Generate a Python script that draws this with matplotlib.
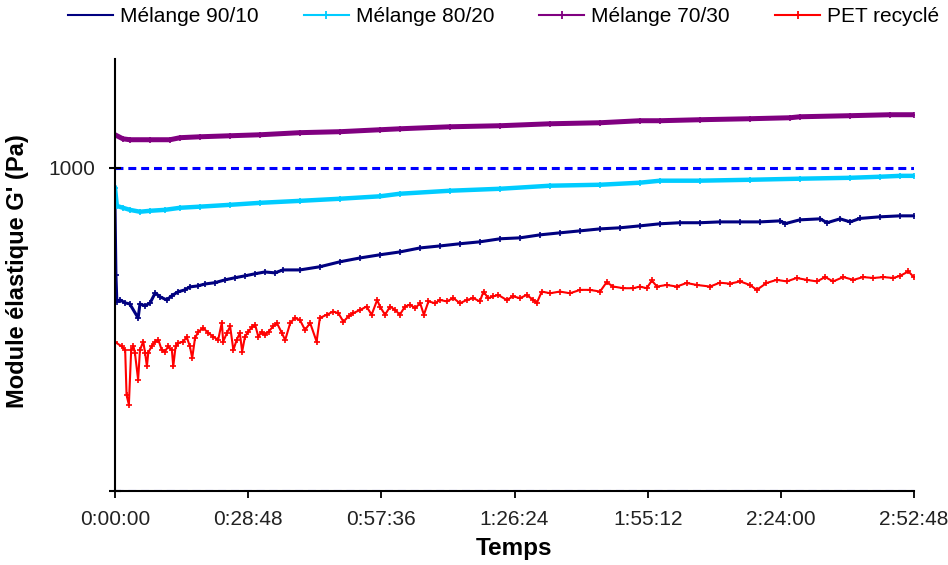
import matplotlib
matplotlib.use("Agg")
import matplotlib.pyplot as plt
from matplotlib.ticker import FixedLocator, FuncFormatter, NullLocator
from matplotlib.lines import Line2D

plt.rcParams['font.family'] = ['Liberation Sans', 'DejaVu Sans']

# ---- data (time in minutes, G' in Pa) ----
series_names = ["Mélange 90/10", "Mélange 80/20", "Mélange 70/30", "PET recyclé"]

t_9010 = [0, 0.2, 0.4, 1.1, 2.2, 3.2, 5.0, 5.4, 6.5, 7.6,
          8.7, 9.7, 11.2, 12.3, 13.6, 15.1, 16.2, 17.9, 19.5, 21.6,
          23.8, 26.0, 28.1, 30.3, 32.4, 34.6, 36.3, 40.0, 44.3, 48.7,
          53.0, 57.3, 61.6, 66.0, 70.3, 74.6, 78.9, 83.3, 87.6, 91.9,
          96.2, 100.6, 104.9, 109.2, 113.5, 117.9, 122.2, 126.5, 130.8, 135.2,
          139.5, 143.8, 145.0, 148.1, 152.5, 154.0, 156.8, 159.0, 161.1, 165.4,
          169.8, 172.8]
g_9010 = [757, 466, 385, 390, 382, 379, 343, 379, 374, 382,
          410, 399, 390, 402, 413, 419, 428, 431, 437, 441,
          450, 457, 463, 470, 476, 473, 483, 483, 494, 512,
          526, 538, 549, 565, 573, 582, 590, 603, 607, 620,
          629, 638, 647, 652, 661, 671, 676, 676, 680, 680,
          680, 685, 672, 690, 695, 676, 695, 680, 697, 705,
          710, 710]

t_8020 = [0, 0.4, 1.7, 3.2, 5.4, 7.6, 10.8, 14.1, 18.4, 24.9,
          31.4, 40.0, 48.7, 57.3, 61.6, 72.4, 83.3, 94.1, 104.9, 113.5,
          117.9, 126.5, 137.3, 148.1, 159.0, 165.4, 169.8, 172.8]
g_8020 = [867, 762, 752, 741, 731, 736, 741, 752, 758, 768,
          779, 790, 802, 816, 831, 849, 861, 880, 886, 899,
          912, 912, 918, 925, 931, 938, 944, 944]

t_7030 = [0, 1.7, 3.2, 7.6, 11.9, 14.1, 18.4, 24.9, 31.4, 40.0,
          48.7, 57.3, 61.6, 72.4, 83.3, 94.1, 104.9, 113.5, 117.9, 126.5,
          137.3, 146.0, 148.1, 159.0, 167.6, 172.8]
g_7030 = [1265, 1229, 1221, 1221, 1221, 1239, 1247, 1256, 1265, 1284,
          1293, 1311, 1320, 1339, 1349, 1368, 1378, 1398, 1398, 1408,
          1418, 1428, 1438, 1449, 1459, 1459]

t_pet = [0, 1.5, 2.2, 2.5, 3.0, 3.5, 4.0, 4.3, 5.0, 5.4,
         6.1, 6.5, 6.9, 7.2, 7.9, 8.7, 9.4, 10.1, 10.8, 11.5,
         12.3, 12.6, 13.1, 13.7, 14.8, 15.5, 16.2, 16.7, 17.3, 18.0,
         19.1, 20.2, 21.3, 22.3, 23.1, 23.4, 24.2, 24.9, 25.6, 26.3,
         27.0, 27.5, 28.1, 28.8, 29.6, 30.3, 31.0, 31.7, 32.4, 33.2,
         34.2, 35.0, 36.1, 36.8, 37.9, 38.9, 40.0, 41.1, 42.2, 43.6,
         44.3, 45.8, 47.2, 48.3, 49.4, 50.5, 51.5, 53.0, 54.4, 55.5,
         56.7, 57.3, 58.4, 59.5, 60.6, 61.6, 62.7, 63.8, 64.9, 66.0,
         66.8, 67.8, 69.2, 70.3, 71.7, 73.2, 74.6, 76.1, 77.5, 78.9,
         79.7, 80.7, 81.8, 82.9, 84.7, 86.1, 87.6, 89.0, 90.5, 91.2,
         92.3, 94.1, 96.2, 98.4, 100.6, 102.7, 104.9, 106.3, 107.8, 109.9,
         112.1, 113.5, 115.0, 116.1, 117.2, 119.3, 121.5, 123.6, 125.8, 128.7,
         130.8, 133.0, 135.2, 137.3, 138.8, 140.9, 143.1, 145.3, 147.4, 149.6,
         151.8, 153.6, 155.3, 157.5, 159.7, 161.8, 164.0, 166.2, 168.3, 169.8,
         171.6, 172.8]
g_pet = [289, 280, 273, 198, 185, 273, 280, 268, 221, 273,
         290, 268, 243, 268, 280, 290, 293, 273, 270, 280,
         273, 243, 280, 287, 290, 300, 280, 258, 297, 311,
         319, 308, 300, 293, 332, 290, 308, 323, 273, 293,
         308, 270, 300, 311, 321, 327, 300, 311, 304, 311,
         323, 331, 308, 293, 331, 343, 338, 315, 331, 290,
         343, 351, 359, 355, 334, 347, 355, 363, 372, 351,
         390, 372, 351, 372, 363, 351, 372, 377, 368, 381,
         351, 386, 381, 390, 386, 395, 381, 390, 395, 386,
         414, 395, 400, 404, 390, 400, 395, 404, 390, 381,
         414, 409, 414, 409, 419, 419, 414, 442, 429, 424,
         424, 429, 424, 448, 429, 434, 429, 440, 434, 429,
         441, 438, 445, 434, 419, 440, 450, 445, 456, 450,
         445, 459, 445, 459, 450, 459, 456, 459, 456, 463,
         478, 458]

x_ticks = [0, 28.8, 57.6, 86.4, 115.2, 144.0, 172.8]
y_ticks = [100, 1000]
y_tick_labels = ["", "1000"]

colors = ["#000080", "#00CCFF", "#800080", "#FF0000"]

# ---- figure ----
fig = plt.figure(figsize=(9.48, 5.65), dpi=100)
ax = fig.add_axes([115/948, 1-491/565, 799/948, 432/565])

data = [(t_9010, g_9010, 2.2), (t_8020, g_8020, 3.2),
        (t_7030, g_7030, 3.6), (t_pet, g_pet, 1.5)]
for (t, g, lw), c in zip(data, colors):
    ax.plot(t, g, color=c, lw=lw, marker='+', ms=5, mew=1.2, zorder=3)

ax.set_yscale('log')
ax.set_xlim(0, 172.8)
ax.set_ylim(100, 2170)

ax.yaxis.set_major_locator(FixedLocator(y_ticks))
ax.yaxis.set_minor_locator(NullLocator())
ax.set_yticklabels(y_tick_labels)
ax.xaxis.set_major_locator(FixedLocator(x_ticks))

def fmt_time(v, pos=None):
    s = int(round(v * 60))
    return f"{s // 3600}:{(s % 3600) // 60:02d}:{s % 60:02d}"

ax.xaxis.set_major_formatter(FuncFormatter(fmt_time))

ax.grid(axis='y', which='major', color='#0000FF', lw=2.2,
        linestyle=(0, (2.6, 1.6)))
ax.set_axisbelow(True)

for s in ['top', 'right']:
    ax.spines[s].set_visible(False)
for s in ['left', 'bottom']:
    ax.spines[s].set_linewidth(1.5)
    ax.spines[s].set_color('black')
    ax.spines[s].set_zorder(4)

ax.tick_params(axis='x', direction='out', length=5, width=1.3, pad=9,
               labelsize=15, colors='black')
ax.tick_params(axis='y', direction='inout', length=8, width=1.5, pad=10,
               labelsize=15, colors='black')
for lab in ax.get_xticklabels() + ax.get_yticklabels():
    lab.set_color('#222222')

fig.text(18/948, 1-271/565, "Module élastique G' (Pa)", rotation=90,
         ha='center', va='center', fontsize=17, fontweight='bold')
fig.text(514.5/948, 1-548/565, "Temps", ha='center', va='center',
         fontsize=17.5, fontweight='bold')

handles = [Line2D([], [], color=colors[0], lw=1.5)]
for c in colors[1:]:
    handles.append(Line2D([], [], color=c, lw=1.5, marker='+', ms=6, mew=1.3))
fig.legend(handles, series_names, loc='center left',
           bbox_to_anchor=(68/948, 1-17/565), ncol=4, frameon=False,
           fontsize=15, handlelength=2.16, handletextpad=0.34,
           columnspacing=2.16, borderpad=0, borderaxespad=0)

fig.savefig("out.png", dpi=100)
